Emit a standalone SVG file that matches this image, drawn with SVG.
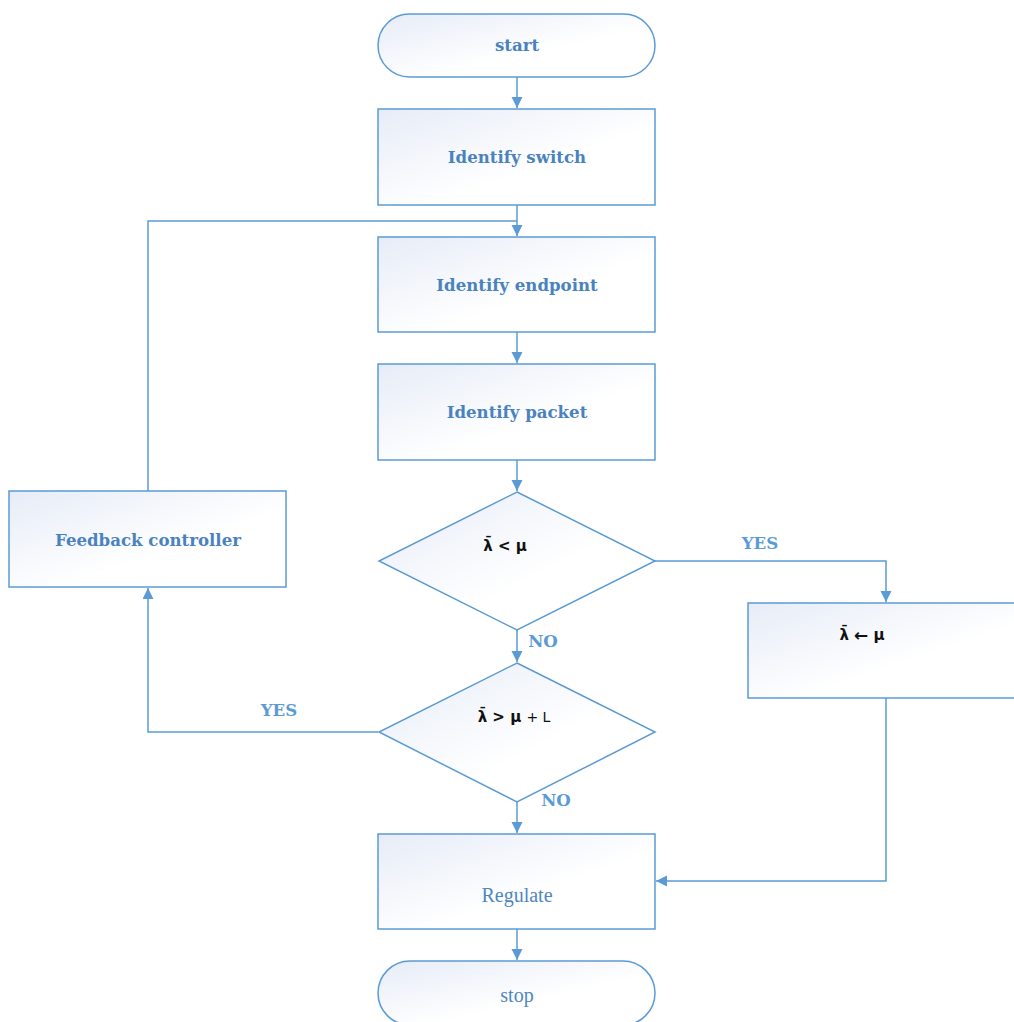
<svg xmlns="http://www.w3.org/2000/svg" width="1014" height="1022" viewBox="0 0 1014 1022">
<defs>
<linearGradient id="g" x1="0" y1="0" x2="1" y2="1">
<stop offset="0" stop-color="#e6ecf7"/>
<stop offset="0.6" stop-color="#ffffff"/>
</linearGradient>
<marker id="a" markerWidth="12" markerHeight="12" refX="11" refY="5.5" orient="auto" markerUnits="userSpaceOnUse">
<path d="M0,0 L11,5.5 L0,11 Z" fill="#5b9bd5"/>
</marker>
</defs>
<style>
.n{fill:url(#g);stroke:#5b9bd5;stroke-width:1.5}
.t{font-family:"DejaVu Serif","Liberation Serif",serif;font-size:16.6px;font-weight:bold;fill:#4a82c0;text-anchor:middle;dominant-baseline:central}
.r{font-family:"Liberation Serif","DejaVu Serif",serif;font-size:20px;fill:#4f86c1;text-anchor:middle;dominant-baseline:central}
.m{font-family:"DejaVu Sans","Liberation Sans",sans-serif;font-size:15px;font-weight:bold;fill:#111;text-anchor:middle;dominant-baseline:central}
.l{font-family:"DejaVu Serif","Liberation Serif",serif;font-size:16.6px;font-weight:bold;fill:#5b9bd5;text-anchor:middle;dominant-baseline:central}
.c{fill:none;stroke:#5b9bd5;stroke-width:1.5}
</style>
<g id="connectors">
<path class="c" d="M517,77 V108" marker-end="url(#a)"/>
<path class="c" d="M517,205 V236" marker-end="url(#a)"/>
<path class="c" d="M148,491 V221 H517"/>
<path class="c" d="M517,332 V363" marker-end="url(#a)"/>
<path class="c" d="M517,460 V491" marker-end="url(#a)"/>
<path class="c" d="M655,561 H886 V602" marker-end="url(#a)"/>
<path class="c" d="M517,630 V662" marker-end="url(#a)"/>
<path class="c" d="M378,732 H148 V588" marker-end="url(#a)"/>
<path class="c" d="M517,802 V833" marker-end="url(#a)"/>
<path class="c" d="M886,698 V881 H656" marker-end="url(#a)"/>
<path class="c" d="M517,929 V960" marker-end="url(#a)"/>
<text class="l" x="760" y="543">YES</text>
<text class="l" x="543" y="641">NO</text>
<text class="l" x="279" y="710">YES</text>
<text class="l" x="556" y="800">NO</text>
</g>
<g id="start"><rect class="n" x="378" y="14" width="277" height="63" rx="31.5"/><text class="t" x="517" y="45">start</text></g>
<g id="switch"><rect class="n" x="378" y="109" width="277" height="96"/><text class="t" x="517" y="157">Identify switch</text></g>
<g id="endpoint"><rect class="n" x="378" y="237" width="277" height="95"/><text class="t" x="517" y="285">Identify endpoint</text></g>
<g id="packet"><rect class="n" x="378" y="364" width="277" height="96"/><text class="t" x="517" y="412">Identify packet</text></g>
<g id="d1"><path class="n" d="M517,492 L655,561 L517,630 L379,561 Z"/><text class="m" x="505" y="546">λ̄ &lt; μ</text></g>
<g id="d2"><path class="n" d="M517,663 L655,732 L517,802 L379,732 Z"/><text class="m" x="514" y="717">λ̄ &gt; μ <tspan font-weight="normal" font-size="14">+ L</tspan></text></g>
<g id="feedback"><rect class="n" x="9" y="491" width="277" height="96"/><text class="t" x="148" y="540">Feedback controller</text></g>
<g id="assign"><rect class="n" x="748" y="603" width="280" height="95"/><text class="m" x="862" y="635">λ̄ <tspan font-size="17">←</tspan> μ</text></g>
<g id="regulate"><rect class="n" x="378" y="834" width="277" height="95"/><text class="r" x="517" y="895">Regulate</text></g>
<g id="stop"><rect class="n" x="378" y="961" width="277" height="64" rx="32"/><text class="r" x="517" y="995">stop</text></g>
</svg>
